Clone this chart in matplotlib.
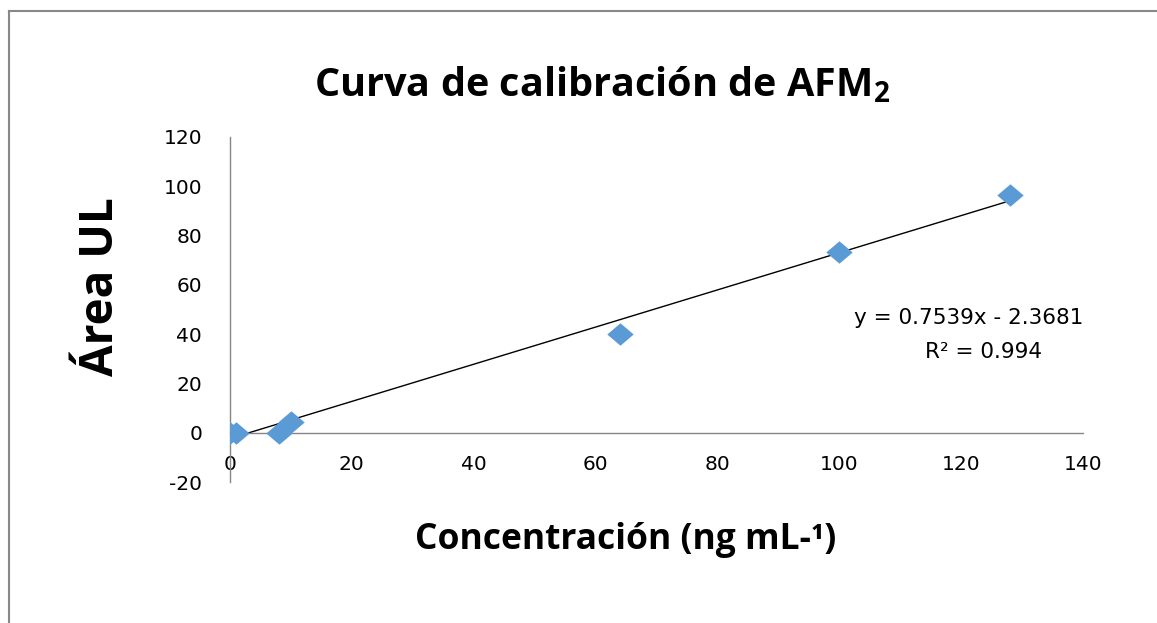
import matplotlib
matplotlib.use("Agg")
import matplotlib.pyplot as plt
from matplotlib.lines import Line2D
import numpy as np

# Data
concentracion = [0, 1, 8, 10, 64, 100, 128]
area = [0, 0, 0, 4.5, 40.2, 73.4, 96.5]
slope = 0.7539
intercept = -2.3681
r2 = 0.994
x_ticks = [0, 20, 40, 60, 80, 100, 120, 140]
y_ticks = [-20, 0, 20, 40, 60, 80, 100, 120]

plt.rcParams['axes.unicode_minus'] = False
plt.rcParams['mathtext.fontset'] = 'custom'
plt.rcParams['mathtext.rm'] = 'Open Sans:bold'
plt.rcParams['mathtext.bf'] = 'Open Sans:bold'
plt.rcParams['mathtext.it'] = 'Open Sans:bold'

W, H = 1157, 623
fig = plt.figure(figsize=(W / 100, H / 100), dpi=100)
fig.patch.set_facecolor('white')

ax = fig.add_axes([230 / W, 1 - 482 / H, (1083 - 230) / W, (482 - 137) / H])
ax.set_xlim(0, 140)
ax.set_ylim(-20, 120)

# diamond marker, slightly wider than tall
diamond = [(-1, 0), (0, 0.85), (1, 0), (0, -0.85), (-1, 0)]
ax.plot(concentracion, area, linestyle='none', marker=diamond, markersize=19,
        color='#5B9BD5', markeredgewidth=0, zorder=3)

xf = np.array([min(concentracion), max(concentracion)])
ax.plot(xf, slope * xf + intercept, color='black', linewidth=1.0, zorder=2)

for s in ['top', 'right']:
    ax.spines[s].set_visible(False)
ax.spines['left'].set_color('#868686')
ax.spines['bottom'].set_color('#868686')
ax.spines['bottom'].set_position(('data', 0))
ax.spines['left'].set_linewidth(1)
ax.spines['bottom'].set_linewidth(1)

ax.set_xticks(x_ticks)
ax.set_yticks(y_ticks)
ax.tick_params(axis='both', length=0, labelsize=14.5, colors='black')
ax.tick_params(axis='x', pad=16)
ax.tick_params(axis='y', pad=20)
for lab in ax.get_xticklabels() + ax.get_yticklabels():
    lab.set_fontfamily('DejaVu Sans')

fig.text(969 / W, 1 - 318 / H, f"y = {slope}x - {abs(intercept)}", ha='center', va='center',
         fontsize=15.5, family='DejaVu Sans')
fig.text(984 / W, 1 - 352 / H, f"R² = {r2}", ha='center', va='center',
         fontsize=15.5, family='DejaVu Sans')

fig.text(602 / W, 1 - 85 / H, r"Curva de calibración de AFM$_2$", ha='center', va='center',
         fontsize=28.5, family='Open Sans', fontweight='bold')
fig.text(626 / W, 1 - 540 / H, "Concentración (ng mL-¹)", ha='center', va='center',
         fontsize=25.5, family='Open Sans', fontweight='bold')
fig.text(101 / W, 1 - 287 / H, "Área UL", ha='center', va='center', rotation=90,
         fontsize=33, family='Open Sans', fontweight='bold')

# outer chart border (top and left visible)
fig.add_artist(Line2D([8.5 / W, 8.5 / W], [0, 1 - 11 / H], color='#888888', linewidth=1.5))
fig.add_artist(Line2D([8.5 / W, 1], [1 - 11 / H, 1 - 11 / H], color='#888888', linewidth=1.5))

fig.savefig('out.png', dpi=100, facecolor='white')
